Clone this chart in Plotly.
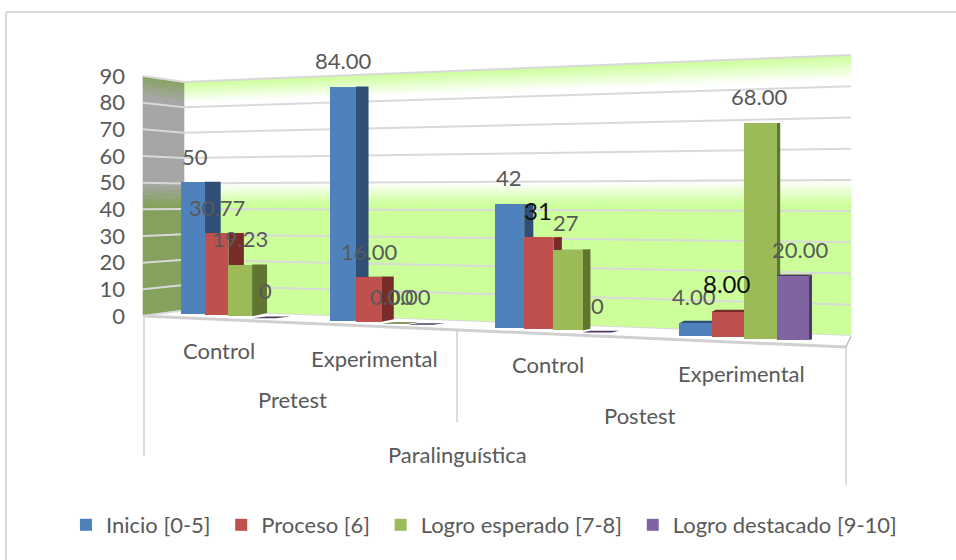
import plotly.graph_objects as go

# ---- data ----
groups = ["Control", "Experimental", "Control", "Experimental"]
phases = ["Pretest", "Postest"]
dimension = "Paralinguística"
series = ["Inicio [0-5]", "Proceso [6]", "Logro esperado [7-8]", "Logro destacado [9-10]"]
inicio = [50, 84, 42, 4]
proceso = [30.77, 16, 31, 8]
esperado = [19.23, 0, 27, 68]
destacado = [0, 0, 0, 20]
inicio_labels = ["50", "84.00", "42", "4.00"]
proceso_labels = ["30.77", "16.00", "31", "8.00"]
esperado_labels = ["19.23", "0.00", "27", "68.00"]
destacado_labels = ["0", "0.00", "0", "20.00"]
y_ticks = [0, 10, 20, 30, 40, 50, 60, 70, 80, 90]

# ---- style ----
FONT = "Lato"
TXT = "#595959"
FS = 22
front = ["#4f81bd", "#c0504d", "#9bbb59", "#8064a2"]
side = ["#2f4f77", "#772c2a", "#5f7530", "#4d3b62"]
GRID = "#d9d9d9"
W, H = 956, 560
legend_pad = ["\u00a0", "\u00a0", "\u00a0", ""]

# pixel helpers: y axis runs in chart units, 0 at px 316, 90 at px 76
PX_PER_UNIT = 240 / 90
def yv(px):
    return (316 - px) / PX_PER_UNIT

group_left = [181, 330, 495, 679]
bar_w = [23.7, 25.8, 29.2, 32.5]

def floor_px(x):
    return 314.3 + 0.0428 * (x - 192)
def scale_px(x):
    return 2.65 + (x - 192) * 0.55 / 600
def depth_px(x):
    return max(2.5, 16 - (x - 204) * 0.0215)

def mix(a, b, t):
    a = [int(a[i:i+2], 16) for i in (1, 3, 5)]
    b = [int(b[i:i+2], 16) for i in (1, 3, 5)]
    return "#%02x%02x%02x" % tuple(round(p + (q - p) * t) for p, q in zip(a, b))

def poly(points, color, edge=False):
    d = "M" + "L".join(f"{x:.2f},{yv(y):.3f}" for x, y in points) + "Z"
    return dict(type="path", path=d, xref="x", yref="y", fillcolor=color,
                line=dict(color=color, width=0.6) if edge else dict(width=0), layer="below")

def seg(p, q, color=GRID, width=2):
    return dict(type="line", xref="x", yref="y", x0=p[0], y0=yv(p[1]), x1=q[0], y1=yv(q[1]),
                line=dict(color=color, width=width), layer="below")

def back(frac, v):
    return (184 + 667 * frac, (310.5 - 2.54 * v) * (1 - frac) + (336 - 3.122 * v) * frac)
def wing(frac, v):
    return (143 + 41 * frac, (316 - 2.667 * v) * (1 - frac) + (310.5 - 2.54 * v) * frac)

def wall_color(v, solid, mid):
    if v >= 82:
        return mix(mid, solid, (v - 82) / 8)
    if v >= 50:
        return mid
    if v >= 42:
        return mix(solid, mid, (v - 42) / 8)
    return solid

shapes = []
# walls as thin bands, colour changing with height
levels = [0, 42] + list(range(43, 51)) + [82] + list(range(83, 91))
for lo, hi in zip(levels[:-1], levels[1:]):
    c = (lo + hi) / 2
    shapes.append(poly([back(0, lo), back(1, lo), back(1, hi), back(0, hi)],
                       wall_color(c, "#ccff99", "#ffffff"), True))
    shapes.append(poly([wing(0, lo), wing(1, lo), wing(1, hi), wing(0, hi)],
                       wall_color(c, "#84a15d", "#a6a6a6"), True))
for v in y_ticks:
    shapes.append(seg(wing(0, v), wing(1, v)))
    shapes.append(seg(back(0, v), back(1, v)))
# floor
shapes.append(poly([(143, 316), (184, 310.5), (851, 336), (846, 347)], "#ffffff"))
shapes.append(seg((143, 316), (184, 310.5), GRID, 1.5))
shapes.append(seg((143, 316), (846, 347), "#d0d0d0", 3))
shapes.append(seg((846, 347), (851, 336), "#bfbfbf", 1.5))
# category separators
shapes.append(seg((144, 316), (144, 456), "#d0d0d0", 1.5))
shapes.append(seg((457, 331), (457, 422), "#d0d0d0", 1.5))
shapes.append(seg((846, 347), (846, 485), "#d0d0d0", 1.5))
# outer frame
shapes.append(seg((6, 12), (6, 560), "#d9d9d9", 2))
shapes.append(seg((6, 12), (956, 12), "#d9d9d9", 2))

all_values = [inicio, proceso, esperado, destacado]
bars = []
for s, vals in enumerate(all_values):
    xs, ws, bases, hs, texts = [], [], [], [], []
    for g, v in enumerate(vals):
        w = bar_w[g]
        xl = group_left[g] + s * w
        xr = xl + w
        xm = (xl + xr) / 2
        yb = floor_px(xm)
        yt = yb - v * scale_px(xm)
        d = depth_px(xr)
        h = max(0.0, (yt - 230) / 30) * max(0.0, (xm - 192) / 600)
        if v == 0:
            shapes.append(poly([(xl, yb + 0.8), (xr, yb + 0.8), (xr + d, yb - 0.8), (xl + d, yb - 0.8)], side[s]))
            continue
        dh = d * 0.22
        shapes.append(poly([(xr, yt), (xr + d, yt - h), (xr + d, yb - dh), (xr, yb)], side[s]))
        if h > 0.3:
            shapes.append(poly([(xl, yt), (xr, yt), (xr + d, yt - h), (xl + d, yt - h)], side[s]))
        xs.append(xm); ws.append(w); bases.append(yv(yb)); hs.append(yv(yt) - yv(yb)); texts.append(v)
    bars.append(go.Bar(x=xs, y=hs, base=bases, width=ws, name=series[s] + legend_pad[s],
                       marker=dict(color=front[s], line=dict(width=0)),
                       customdata=texts, hovertemplate="%{customdata}<extra>" + series[s] + "</extra>"))

fig = go.Figure(bars)

def label(text, x, y, size=FS, color=TXT):
    return dict(text=text, x=x, y=yv(y), xref="x", yref="y", showarrow=False,
                font=dict(family=FONT, size=size, color=color), xanchor="center", yanchor="middle")

ann = [
    label(inicio_labels[0], 195, 156), label(proceso_labels[0], 217, 207), label(esperado_labels[0], 240, 238),
    label(destacado_labels[0], 265, 290),
    label(inicio_labels[1], 343, 60), label(proceso_labels[1], 369, 251), label(esperado_labels[1], 392, 296),
    label(destacado_labels[1], 409, 296),
    label(inicio_labels[2], 509, 177), label(proceso_labels[2], 538, 210, size=24, color="#111111"), label(esperado_labels[2], 566, 222),
    label(destacado_labels[2], 597, 305),
    label(inicio_labels[3], 694, 296), label(proceso_labels[3], 727, 283, size=24, color="#111111"), label(esperado_labels[3], 759, 96),
    label(destacado_labels[3], 800, 249),
    label(groups[0], 219, 350), label(groups[1], 374, 358), label(groups[2], 548, 364), label(groups[3], 741, 373),
    label(phases[0], 292, 399), label(phases[1], 640, 415), label(dimension, 457, 454),
]

fig.update_layout(
    width=W, height=H, autosize=False, margin=dict(l=0, r=0, t=0, b=0),
    paper_bgcolor="#ffffff", plot_bgcolor="rgba(0,0,0,0)", barmode="overlay", bargap=0,
    shapes=shapes, annotations=ann, hovermode="closest",
    xaxis=dict(range=[0, W], visible=False, domain=[0, 1]),
    yaxis=dict(range=[yv(H), yv(0)], domain=[0, 1], anchor="free", position=125 / W,
               tickmode="array", tickvals=y_ticks, ticktext=[str(t) for t in y_ticks],
               showgrid=False, zeroline=False, showline=False, ticks="",
               tickfont=dict(family=FONT, size=FS, color=TXT)),
    showlegend=True,
    legend=dict(orientation="h", x=0.069, y=0.0625, xanchor="left", yanchor="middle",
                font=dict(family=FONT, size=FS, color=TXT), bgcolor="rgba(0,0,0,0)", itemwidth=30,
                itemclick=False, itemdoubleclick=False, traceorder="normal"),
)
fig.write_html("out.html", config={"displayModeBar": False},
               post_script="document.body.style.margin='0';document.documentElement.style.overflow='hidden';")
